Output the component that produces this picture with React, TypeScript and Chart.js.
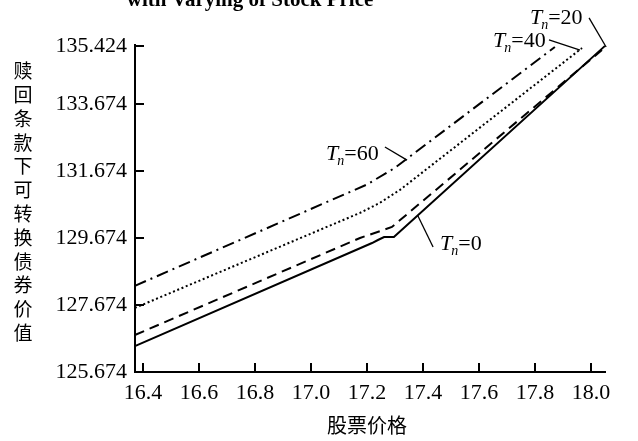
import React, { useEffect, useRef } from 'react';
import { Chart, registerables } from 'chart.js';

Chart.register(...registerables);

// ---- data ----
const xTicks = [16.4, 16.6, 16.8, 17.0, 17.2, 17.4, 17.6, 17.8, 18.0];
const yTicks = [125.674, 127.674, 129.674, 131.674, 133.674, 135.424];

// T_n = 0 (solid)
const t0X = [16.371, 17.218, 17.239, 17.261, 17.296, 18.05];
const t0Y = [126.45, 129.53, 129.62, 129.71, 129.71, 135.424];
// T_n = 20 (dashed)
const t20X = [16.371, 17.175, 17.289, 18.039];
const t20Y = [126.78, 129.68, 130.01, 135.3];
// T_n = 40 (dotted)
const t40X = [16.371, 17.175, 17.246, 17.318, 17.968];
const t40Y = [127.59, 130.43, 130.73, 131.12, 135.36];
// T_n = 60 (dash-dot)
const t60X = [16.371, 17.2, 17.3, 17.346, 17.871];
const t60Y = [128.25, 131.28, 131.78, 132.07, 135.39];

// annotation labels: value after "T_n="
const annValues = ['0', '20', '40', '60'];
const annTextX = [17.461, 17.782, 17.65, 17.054];
const annTextY = [129.32, 136.08, 135.39, 132.0];
const annFromX = [17.436, 17.993, 17.85, 17.264];
const annFromY = [129.41, 136.26, 135.6, 132.4];
const annToX = [17.382, 18.054, 17.961, 17.343];
const annToY = [130.34, 135.39, 135.3, 132.01];

const titleText = 'with Varying of Stock Price';
const yTitle = '赎回条款下可转换债券价值';
const xTitle = '股票价格';

const pts = (xs: number[], ys: number[]) => xs.map((x, i) => ({ x, y: ys[i] }));

const App = () => {
  const ref = useRef<HTMLCanvasElement | null>(null);

  useEffect(() => {
    document.body.style.margin = '0';
    const canvas = ref.current;
    if (!canvas) return;

    const decor = {
      id: 'decor',
      afterDraw(chart: any) {
        const ctx = chart.ctx;
        const xs = chart.scales.x;
        const ys = chart.scales.y;
        const area = chart.chartArea;
        ctx.save();
        ctx.strokeStyle = '#000';
        ctx.fillStyle = '#000';
        // inner ticks
        ctx.lineWidth = 2;
        yTicks.forEach((v) => {
          const py = Math.round(ys.getPixelForValue(v));
          ctx.beginPath();
          ctx.moveTo(area.left, py);
          ctx.lineTo(area.left + 9, py);
          ctx.stroke();
        });
        xTicks.forEach((v) => {
          const px = Math.round(xs.getPixelForValue(v));
          ctx.beginPath();
          ctx.moveTo(px, area.bottom);
          ctx.lineTo(px, area.bottom - 9);
          ctx.stroke();
        });
        // title (cut at top)
        ctx.font = 'bold 21px "Liberation Serif"';
        ctx.textAlign = 'center';
        ctx.textBaseline = 'alphabetic';
        ctx.fillText(titleText, 250, 6);
        // y title, stacked characters
        ctx.font = '19px "Noto Sans CJK SC"';
        ctx.textBaseline = 'middle';
        const chars = Array.from(yTitle);
        chars.forEach((c, i) => {
          ctx.fillText(c, 23, 71 + i * 23.8);
        });
        // x title
        ctx.font = '20px "Noto Sans CJK SC"';
        ctx.fillText(xTitle, 367, 425);
        // annotations
        ctx.lineWidth = 1.3;
        annValues.forEach((val, i) => {
          const fx = xs.getPixelForValue(annFromX[i]);
          const fy = ys.getPixelForValue(annFromY[i]);
          const tx = xs.getPixelForValue(annToX[i]);
          const ty = ys.getPixelForValue(annToY[i]);
          ctx.beginPath();
          ctx.moveTo(fx, fy);
          ctx.lineTo(tx, ty);
          ctx.stroke();
          let x = xs.getPixelForValue(annTextX[i]);
          const y = ys.getPixelForValue(annTextY[i]);
          ctx.textAlign = 'left';
          ctx.textBaseline = 'alphabetic';
          ctx.font = 'italic 22px "Liberation Serif"';
          ctx.fillText('T', x, y);
          x += ctx.measureText('T').width - 1;
          ctx.font = 'italic 14px "Liberation Serif"';
          ctx.fillText('n', x, y + 5);
          x += ctx.measureText('n').width;
          ctx.font = '22px "Liberation Serif"';
          ctx.fillText('=' + val, x, y);
        });
        ctx.restore();
      },
    };

    const common = {
      borderColor: '#000',
      backgroundColor: '#000',
      borderWidth: 2,
      pointRadius: 0,
      fill: false,
      tension: 0,
      clip: false as any,
      showLine: true,
    };

    const chart = new Chart(canvas, {
      type: 'scatter',
      data: {
        datasets: [
          { ...common, label: 'T_n=0', data: pts(t0X, t0Y) },
          { ...common, label: 'T_n=20', data: pts(t20X, t20Y), borderDash: [10, 6] },
          { ...common, label: 'T_n=40', data: pts(t40X, t40Y), borderDash: [2, 2.6] },
          { ...common, label: 'T_n=60', data: pts(t60X, t60Y), borderDash: [12, 5, 2, 5] },
        ],
      },
      options: {
        responsive: false,
        animation: false,
        layout: { padding: { top: 45, right: 33, left: 0, bottom: 0 } },
        plugins: {
          legend: { display: false },
          tooltip: { enabled: false },
          title: { display: false },
        },
        scales: {
          x: {
            type: 'linear',
            min: 16.3714,
            max: 18.05,
            grid: { display: false, drawTicks: false },
            border: { display: true, color: '#000', width: 2 },
            afterBuildTicks: (s: any) => {
              s.ticks = xTicks.map((v) => ({ value: v }));
            },
            afterFit: (s: any) => {
              s.height = 69;
            },
            ticks: {
              color: '#000',
              padding: 8,
              maxRotation: 0,
              autoSkip: false,
              font: { family: '"Liberation Serif"', size: 22 },
              callback: (v: any) => Number(v).toFixed(1),
            },
          },
          y: {
            type: 'linear',
            min: 125.674,
            max: 135.45,
            grid: { display: false, drawTicks: false },
            border: { display: true, color: '#000', width: 2 },
            afterBuildTicks: (s: any) => {
              s.ticks = yTicks.map((v) => ({ value: v }));
            },
            afterFit: (s: any) => {
              s.width = 135;
            },
            ticks: {
              color: '#000',
              padding: 8,
              autoSkip: false,
              font: { family: '"Liberation Serif"', size: 22 },
              callback: (v: any) => Number(v).toFixed(3),
            },
          },
        },
      },
      plugins: [decor],
    });

    return () => chart.destroy();
  }, []);

  return <canvas ref={ref} width={638} height={441} style={{ display: 'block' }} />;
};

export default App;
